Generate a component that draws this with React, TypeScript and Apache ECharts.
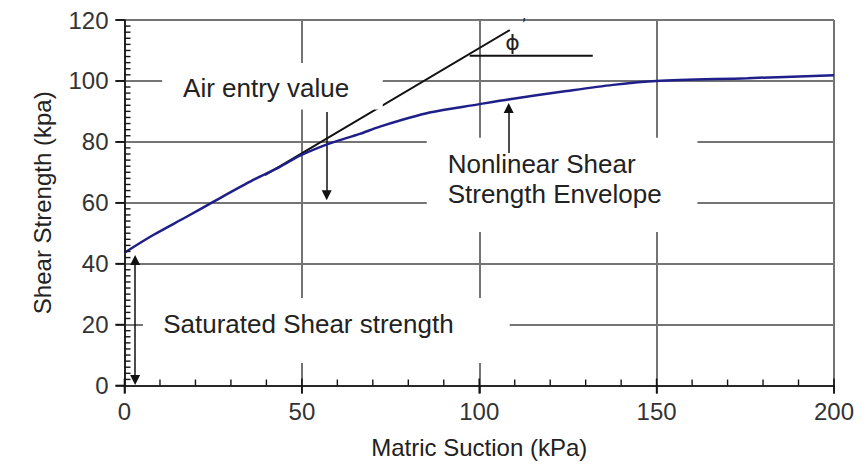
import React, { useEffect, useRef } from "react";
import * as echarts from "echarts";

// Nonlinear shear strength envelope
const suction = [0, 8.1, 17.5, 25, 36.3, 43.8, 49.9, 57.9, 66.3, 72, 86, 99.7, 108.6, 123.6, 137.7, 149.9, 175.6, 200];
const strength = [43.6, 49.4, 55.4, 60.3, 67.5, 71.8, 75.7, 79.5, 82.6, 85, 89.6, 92.3, 94, 96.5, 98.7, 100, 100.9, 101.9];

// Tangent (phi') line and its horizontal reference
const tangentX = [39.6, 108.6];
const tangentY = [69.1, 116.7];
const phiRefX = [97.3, 132];
const phiRefY = [108.3, 108.3];

// Axis ranges
const xMin = 0, xMax = 200, xStep = 50, xMinorSplit = 5;
const yMin = 0, yMax = 120, yStep = 20, yMinorSplit = 10;

const FONT = "'Liberation Sans', Arial, Helvetica, sans-serif";

export default function App() {
  const ref = useRef<HTMLDivElement>(null);

  useEffect(() => {
    const chart = echarts.init(ref.current!, null, { renderer: "svg" });

    const pair = (xs: number[], ys: number[]) => xs.map((x, i) => [x, ys[i]]);

    const axisBlack = { color: "#111111", width: 1.6 };
    const gridGray = { color: "#747474", width: 2 };

    const option: any = {
      animation: false,
      backgroundColor: "#ffffff",
      grid: { left: 124.5, right: 34, top: 20, bottom: 81.5, outerBoundsMode: "none" },
      xAxis: {
        type: "value",
        min: xMin,
        max: xMax,
        interval: xStep,
        position: "bottom",
        name: "Matric Suction (kPa)",
        nameLocation: "middle",
        nameGap: 50,
        nameTextStyle: { fontSize: 24, color: "#222", fontFamily: FONT },
        axisLine: { show: true, onZero: false, lineStyle: axisBlack },
        axisTick: { show: true, length: 8, lineStyle: axisBlack },
        axisLabel: { fontSize: 24, color: "#333", margin: 14, fontFamily: FONT },
        splitLine: { show: true, lineStyle: gridGray },
      },
      yAxis: {
        type: "value",
        min: yMin,
        max: yMax,
        interval: yStep,
        position: "left",
        name: "Shear Strength (kpa)",
        nameLocation: "middle",
        nameGap: 70,
        nameTextStyle: { fontSize: 24, color: "#222", fontFamily: FONT },
        axisLine: { show: true, onZero: false, lineStyle: axisBlack },
        axisTick: { show: true, length: 9, lineStyle: axisBlack },
        axisLabel: { fontSize: 24, color: "#333", margin: 16, fontFamily: FONT },
        splitLine: { show: true, lineStyle: gridGray },
      },
      series: [
        {
          name: "tangent",
          type: "line",
          z: 2,
          data: pair(tangentX, tangentY),
          showSymbol: false,
          symbol: "none",
          lineStyle: { color: "#111", width: 2 },
          silent: true,
        },
        {
          name: "phiRef",
          type: "line",
          z: 2,
          data: pair(phiRefX, phiRefY),
          showSymbol: false,
          symbol: "none",
          lineStyle: { color: "#111", width: 2 },
          silent: true,
        },
        {
          name: "envelope",
          type: "line",
          z: 5,
          data: pair(suction, strength),
          smooth: 0.3,
          showSymbol: false,
          symbol: "none",
          lineStyle: { color: "#1f1f8a", width: 2.5 },
          silent: true,
          markLine: {
            silent: true,
            animation: false,
            label: { show: false },
            emphasis: { disabled: true },
            lineStyle: { color: "#111", width: 1.5, type: "solid" },
            symbolSize: 10,
            data: [
              [
                { coord: [57, 89.8], symbol: "none" },
                { coord: [57, 62.5], symbol: "triangle" },
              ],
              [
                { coord: [108.3, 76.3], symbol: "none" },
                { coord: [108.3, 91.1], symbol: "triangle" },
              ],
              [
                { coord: [3, 41.2], symbol: "triangle" },
                { coord: [3, 1.8], symbol: "triangle" },
              ],
            ],
          },
        },
      ],
    };

    chart.setOption(option);

    const px = (x: number, y: number) =>
      chart.convertToPixel({ xAxisIndex: 0, yAxisIndex: 0 }, [x, y]) as number[];

    const box = (x0: number, y0: number, x1: number, y1: number) => {
      const a = px(x0, y0);
      const b = px(x1, y1);
      return {
        type: "rect",
        z: 3,
        silent: true,
        shape: {
          x: Math.min(a[0], b[0]),
          y: Math.min(a[1], b[1]),
          width: Math.abs(b[0] - a[0]),
          height: Math.abs(b[1] - a[1]),
        },
        style: { fill: "#ffffff" },
      };
    };

    // small filled bars used as tick marks
    const bar = (x: number, y: number, w: number, h: number) => ({
      type: "rect",
      z: 6,
      silent: true,
      shape: { x, y, width: w, height: h },
      style: { fill: "#151515" },
    });

    const ticks: any[] = [];
    const xMinorStep = xStep / xMinorSplit;
    const nx = Math.round((xMax - xMin) / xMinorStep);
    for (let i = 0; i <= nx; i++) {
      const p = px(xMin + i * xMinorStep, yMin);
      if (i % xMinorSplit === 0) {
        ticks.push(bar(p[0] - 0.8, p[1] - 7, 1.6, 15));
      } else {
        ticks.push(bar(p[0] - 0.7, p[1] - 6, 1.4, 6));
      }
    }
    const yMinorStep = yStep / yMinorSplit;
    const ny = Math.round((yMax - yMin) / yMinorStep);
    for (let i = 0; i <= ny; i++) {
      const p = px(xMin, yMin + i * yMinorStep);
      if (i % yMinorSplit === 0) {
        ticks.push(bar(p[0] - 9, p[1] - 0.8, 9, 1.6));
      } else {
        ticks.push(bar(p[0], p[1] - 0.7, 6, 1.4));
      }
    }

    const label = (text: string, x: number, y: number, extra: any = {}) => {
      const p = px(x, y);
      return {
        type: "text",
        z: 7,
        silent: true,
        x: p[0],
        y: p[1],
        style: {
          text,
          fontSize: 26,
          fontFamily: FONT,
          fill: "#222",
          align: "left",
          verticalAlign: "middle",
          ...extra,
        },
      };
    };

    chart.setOption({
      graphic: [
        box(10.6, 105.9, 72.8, 90.6),
        box(85.2, 81.3, 161.5, 50.4),
        box(5.2, 28.7, 108.6, 7.4),
        ...ticks,
        label("Air entry value", 16.5, 97.6),
        label("Nonlinear Shear\nStrength Envelope", 91.1, 67.9, { lineHeight: 30 }),
        label("Saturated Shear strength", 10.9, 20.1),
        label("ϕ", 109.4, 112.6, { fontSize: 22, align: "center", fontFamily: "'DejaVu Sans', sans-serif" }),
        label("′", 112.6, 118.6, { fontSize: 16, align: "center" }),
      ],
    });

    return () => chart.dispose();
  }, []);

  return (
    <div
      ref={ref}
      style={{ position: "fixed", left: 0, top: 0, width: 868, height: 467, background: "#fff" }}
    />
  );
}
